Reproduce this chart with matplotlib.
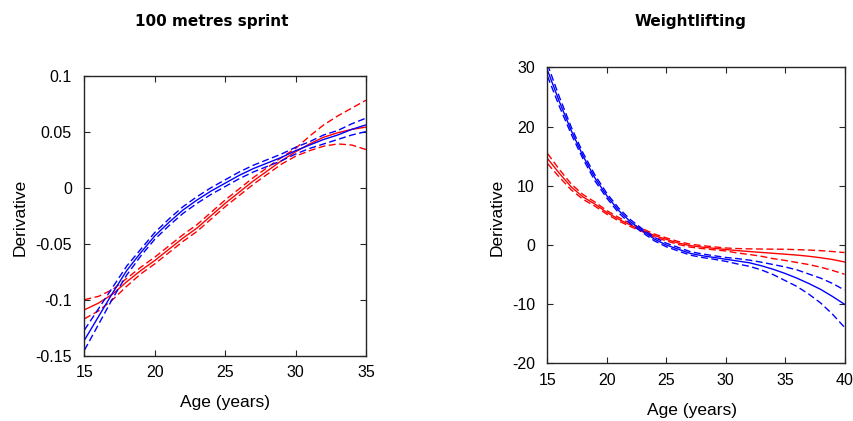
import matplotlib
matplotlib.use("Agg")
import matplotlib.pyplot as plt

plt.rcParams['font.family'] = ['Liberation Sans', 'DejaVu Sans']
plt.rcParams['axes.unicode_minus'] = False

# 100 metres sprint: derivative curves with confidence bounds
sprint_age = list(range(15, 36))
sprint_blue = [-0.136, -0.115, -0.094, -0.074, -0.058, -0.043, -0.031, -0.020, -0.011, -0.003, 0.004,
               0.011, 0.017, 0.022, 0.027, 0.033, 0.038, 0.043, 0.047, 0.052, 0.056]
sprint_blue_hi = [-0.127, -0.108, -0.089, -0.070, -0.055, -0.040, -0.028, -0.017, -0.008, 0.000, 0.007,
                  0.014, 0.020, 0.025, 0.030, 0.036, 0.041, 0.047, 0.051, 0.057, 0.062]
sprint_blue_lo = [-0.145, -0.122, -0.099, -0.078, -0.061, -0.046, -0.034, -0.023, -0.014, -0.006, 0.001,
                  0.008, 0.014, 0.019, 0.024, 0.030, 0.035, 0.039, 0.043, 0.047, 0.050]
sprint_red = [-0.109, -0.103, -0.095, -0.084, -0.074, -0.065, -0.055, -0.045, -0.036, -0.025, -0.014,
              -0.004, 0.006, 0.015, 0.024, 0.032, 0.039, 0.045, 0.049, 0.052, 0.054]
sprint_red_hi = [-0.100, -0.097, -0.091, -0.081, -0.071, -0.062, -0.052, -0.042, -0.033, -0.022, -0.011,
                 -0.001, 0.009, 0.018, 0.027, 0.035, 0.046, 0.056, 0.064, 0.071, 0.078]
sprint_red_lo = [-0.117, -0.110, -0.100, -0.088, -0.077, -0.068, -0.058, -0.048, -0.039, -0.028, -0.017,
                 -0.007, 0.003, 0.012, 0.021, 0.028, 0.033, 0.037, 0.039, 0.038, 0.034]

# Weightlifting
lift_age = list(range(15, 41))
lift_blue = [29.5, 24.2, 19.3, 15.0, 11.3, 8.3, 5.8, 3.9, 2.4, 1.0, 0.0, -0.7, -1.4, -1.8, -2.1,
             -2.4, -2.7, -3.0, -3.5, -4.1, -4.8, -5.6, -6.5, -7.5, -8.7, -10.0]
lift_blue_hi = [30.5, 25.0, 19.9, 15.5, 11.8, 8.7, 6.2, 4.25, 2.7, 1.3, 0.3, -0.4, -1.1, -1.5, -1.8,
                -2.1, -2.3, -2.55, -2.9, -3.3, -3.7, -4.2, -4.9, -5.6, -6.5, -7.6]
lift_blue_lo = [28.5, 23.4, 18.7, 14.5, 10.8, 7.9, 5.4, 3.55, 2.1, 0.7, -0.3, -1.0, -1.7, -2.1, -2.4,
                -2.75, -3.2, -3.6, -4.2, -5.0, -6.0, -7.0, -8.3, -9.8, -11.7, -13.9]
lift_red = [14.6, 12.1, 9.8, 8.1, 6.9, 5.5, 4.35, 3.35, 2.5, 1.6, 0.95, 0.35, -0.1, -0.35, -0.55,
            -0.75, -0.95, -1.1, -1.25, -1.4, -1.55, -1.7, -1.9, -2.15, -2.45, -2.86]
lift_red_hi = [15.45, 12.75, 10.3, 8.5, 7.25, 5.8, 4.65, 3.6, 2.75, 1.85, 1.2, 0.6, 0.15, -0.1, -0.3,
               -0.5, -0.6, -0.65, -0.68, -0.7, -0.72, -0.78, -0.85, -0.95, -1.1, -1.28]
lift_red_lo = [13.75, 11.45, 9.3, 7.7, 6.55, 5.2, 4.05, 3.1, 2.25, 1.35, 0.7, 0.1, -0.35, -0.6, -0.8,
               -1.0, -1.35, -1.6, -1.9, -2.3, -2.6, -2.95, -3.3, -3.75, -4.3, -4.93]

fig = plt.figure(figsize=(8.54, 4.21), dpi=100)
ax1 = fig.add_axes([0.0989, 0.1550, 0.3296, 0.6655])
ax2 = fig.add_axes([0.6411, 0.1366, 0.3478, 0.7035])

dash = (5, 2.5)


def draw(ax, age, series):
    for mid, hi, lo, col in series:
        ax.plot(age, mid, color=col, lw=1.0)
        ax.plot(age, hi, color=col, lw=1.0, dashes=dash)
        ax.plot(age, lo, color=col, lw=1.0, dashes=dash)
    for s in ax.spines.values():
        s.set_color('0.15')
        s.set_linewidth(1.0)
    ax.tick_params(direction='in', length=4, top=True, right=True, labelsize=11.5,
                   colors='0.15', labelcolor='black')
    ax.tick_params(axis='y', pad=9)
    ax.tick_params(axis='x', pad=7)


draw(ax1, sprint_age, [(sprint_red, sprint_red_hi, sprint_red_lo, 'red'),
                       (sprint_blue, sprint_blue_hi, sprint_blue_lo, 'blue')])
ax1.set_xlim(15, 35)
ax1.set_ylim(-0.15, 0.1)
ax1.set_xticks([15, 20, 25, 30, 35])
ax1.set_yticks([-0.15, -0.1, -0.05, 0, 0.05, 0.1])
ax1.set_yticklabels(['-0.15', '-0.1', '-0.05', '0', '0.05', '0.1'])

draw(ax2, lift_age, [(lift_red, lift_red_hi, lift_red_lo, 'red'),
                     (lift_blue, lift_blue_hi, lift_blue_lo, 'blue')])
ax2.set_xlim(15, 40)
ax2.set_ylim(-20, 30)
ax2.set_xticks([15, 20, 25, 30, 35, 40])
ax2.set_yticks([-20, -10, 0, 10, 20, 30])

fig.text(0.248, 0.948, '100 metres sprint', ha='center', va='center', fontsize=11,
         fontweight='bold', family='DejaVu Sans')
fig.text(0.808, 0.948, 'Weightlifting', ha='center', va='center', fontsize=11,
         fontweight='bold', family='DejaVu Sans')
fig.text(0.024, 0.483, 'Derivative', rotation=90, ha='center', va='center', fontsize=12.5)
fig.text(0.582, 0.483, 'Derivative', rotation=90, ha='center', va='center', fontsize=12.5)
fig.text(0.2635, 0.043, 'Age (years)', ha='center', va='center', fontsize=12.5)
fig.text(0.810, 0.024, 'Age (years)', ha='center', va='center', fontsize=12.5)

fig.savefig('out.png', dpi=100)
